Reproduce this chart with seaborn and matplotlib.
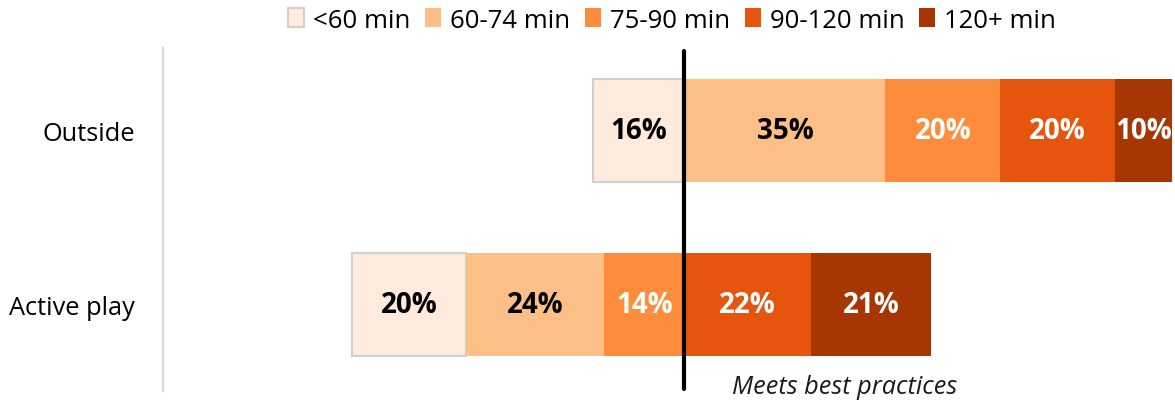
import numpy as np
import pandas as pd
import matplotlib
matplotlib.use("Agg")
import matplotlib.pyplot as plt
import seaborn as sns

# Share of children by daily minutes, per activity
categories = ["Outside", "Active play"]
buckets = ["<60 min", "60-74 min", "75-90 min", "90-120 min", "120+ min"]
outside = [16, 35, 20, 20, 10]
active_play = [20, 24, 14, 22, 21]
# number of buckets that fall below the best-practice threshold
below_threshold = [1, 3]

colors = ["#FEEBDD", "#FCBF87", "#FD8D3C", "#E6550D", "#A63603"]
label_colors = ["black", "black", "white", "white", "white"]

values = np.array([outside, active_play], dtype=float)
# left edge of each segment: bars are centred so the threshold sits at zero
offsets = np.array([values[i, :below_threshold[i]].sum() for i in range(len(categories))])
starts = np.cumsum(values, axis=1) - values - offsets[:, None]

rows = []
for i, cat in enumerate(categories):
    for j, b in enumerate(buckets):
        rows.append({"category": cat, "bucket": b, "pct": values[i, j], "start": starts[i, j]})
df = pd.DataFrame(rows)

sns.set_theme(style="white")
plt.rcParams["font.family"] = ["Open Sans", "DejaVu Sans"]
plt.rcParams["text.color"] = "black"

fig = plt.figure(figsize=(11.75, 4.02), dpi=100)
ax = fig.add_axes([163 / 1175, 10 / 402, 1 - 163 / 1175, 343 / 402])

for j, b in enumerate(buckets):
    sub = df[df["bucket"] == b].set_index("category").loc[categories].reset_index()
    edge = "#D0D0D0" if j == 0 else colors[j]
    lw = 1.5 if j == 0 else 0
    sns.barplot(data=sub, y="category", x="pct", order=categories, left=sub["start"].values,
                color=colors[j], edgecolor=edge, linewidth=lw, width=0.59,
                errorbar=None, saturation=1, label=b, ax=ax)
    cont = ax.containers[-1]
    ax.bar_label(cont, labels=[f"{int(v)}%" for v in sub["pct"]], label_type="center",
                 color=label_colors[j], fontsize=20, fontweight="bold")

if ax.get_legend() is not None:
    ax.get_legend().remove()

ax.set_xlim(-90.85, 85.45)
ax.set_ylim(1.497, -0.474)
ax.set_xlabel("")
ax.set_ylabel("")
ax.set_xticks([])
ax.tick_params(axis="y", length=0, pad=20, labelsize=18.3, labelcolor="black")

for side in ["top", "right", "bottom"]:
    ax.spines[side].set_visible(False)
ax.spines["left"].set_color("#D9D9D9")
ax.spines["left"].set_linewidth(1.6)

# best-practice threshold
ax.axvline(0, ymin=0.006, ymax=0.991, color="black", linewidth=3, zorder=5)
ax.annotate("Meets best practices", xy=(0, 0), xycoords=("data", "axes fraction"),
            xytext=(34, 3), textcoords="offset points", ha="left", va="center",
            style="italic", fontsize=18.2, color="#1A1A1A")

handles, labels = ax.get_legend_handles_labels()
fig.legend(handles, labels, loc="center", bbox_to_anchor=(672 / 1175, 1 - 21 / 402),
           ncol=5, frameon=False, fontsize=18.5, handlelength=0.62, handleheight=0.75,
           handletextpad=0.35, columnspacing=0.58, borderpad=0, labelcolor="black")

fig.savefig("out.png", dpi=100)
